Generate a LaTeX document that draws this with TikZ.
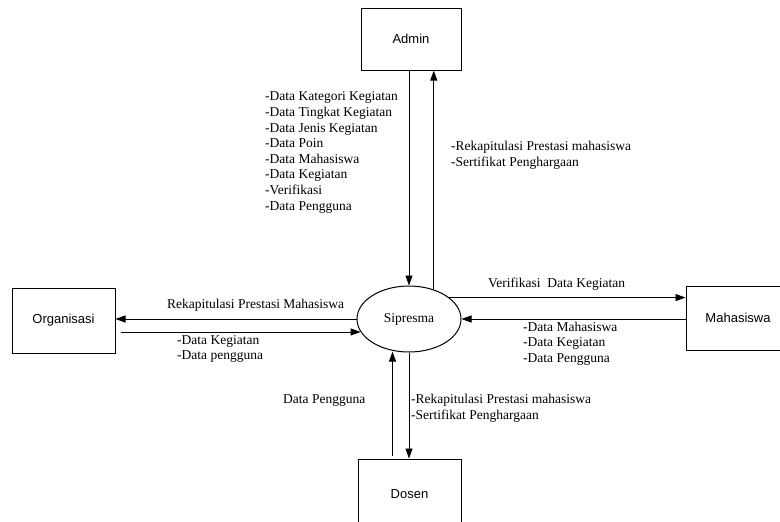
\documentclass[tikz,border=0pt]{standalone}
\usepackage{fontspec}
\setmainfont{Liberation Serif}
\newfontfamily\boxfont{Liberation Sans}
\usetikzlibrary{arrows.meta,shapes.geometric}
\begin{document}
\begin{tikzpicture}[x=1pt,y=-1pt,
  ent/.style={draw,line width=1pt,minimum width=103pt,minimum height=64pt,inner sep=0pt,font=\boxfont\fontsize{13}{15}\selectfont},
  flow/.style={line width=0.9pt,-{Triangle[length=10pt,width=7pt]}},
  lbl/.style={inner sep=0pt,align=left,anchor=west,font=\fontsize{13.5}{15.6}\selectfont}]
\clip (0,0) rectangle (780,522);
\fill[white] (0,0) rectangle (780,522);
% entities
\node[ent,minimum width=100pt,minimum height=62pt] (admin) at (411,39) {Admin};
\node[ent,minimum height=65pt] (org) at (63.5,320.5) {Organisasi};
\node[ent,minimum width=104pt] (mhs) at (738,318) {Mahasiswa};
\node[ent,minimum height=70pt] (dosen) at (409.5,494) {Dosen};
\node[draw,ellipse,line width=1pt,minimum width=104pt,minimum height=66pt,inner sep=0pt,font=\fontsize{13.5}{15}\selectfont] (sip) at (409,319) {Sipresma};
% flows
\draw[flow] (admin.south -| sip.north) -- (sip.north);
\draw[flow] (sip.50) -- (sip.50 |- admin.south);
\draw[flow] (sip.west) -- (org.east |- sip.west);
\draw[flow] ([xshift=5pt]org.east |- sip.195) -- (sip.195);
\draw[flow] (sip.28) -- (mhs.west |- sip.28);
\draw[flow] (mhs.west |- sip.east) -- (sip.east);
\draw[flow,shorten >=4pt] ([xshift=-17pt,yshift=3pt]dosen.north) -- ([xshift=-17pt,yshift=3pt]dosen.north |- sip.241);
\draw[flow] (sip.south) -- (sip.south |- dosen.north);
% labels
\node[lbl] (l1) at (265,152.5) {-Data Kategori Kegiatan\\-Data Tingkat Kegiatan\\-Data Jenis Kegiatan\\-Data Poin\\-Data Mahasiswa\\-Data Kegiatan\\-Verifikasi\\-Data Pengguna};
\node[lbl] (l2) at (451,155) {-Rekapitulasi Prestasi mahasiswa\\-Sertifikat Penghargaan};
\node[lbl] (l3) at (167,305) {Rekapitulasi Prestasi Mahasiswa};
\node[lbl] (l4) at (177,349) {-Data Kegiatan\\-Data pengguna};
\node[lbl] (l5) at (488,284) {Verifikasi\ \ Data Kegiatan};
\node[lbl] (l6) at (523,343.5) {-Data Mahasiswa\\-Data Kegiatan\\-Data Pengguna};
\node[lbl] (l7) at (283,401) {Data Pengguna};
\node[lbl] (l8) at (411,408) {-Rekapitulasi Prestasi mahasiswa\\-Sertifikat Penghargaan};
\end{tikzpicture}
\end{document}
